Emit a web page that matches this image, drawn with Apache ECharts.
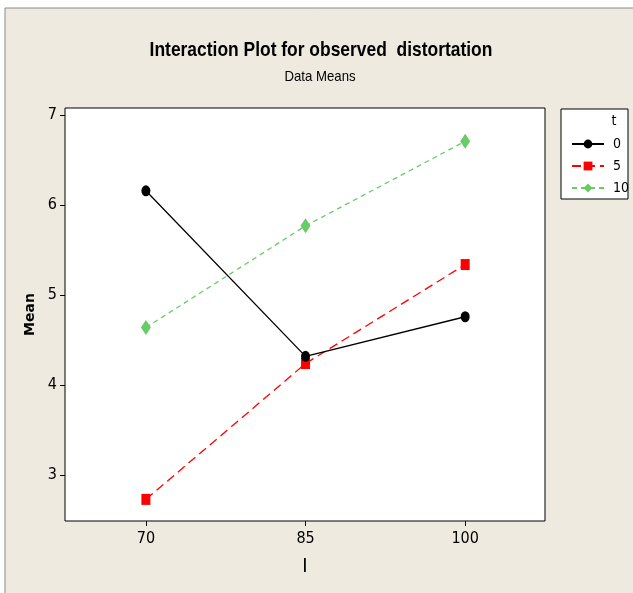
<!DOCTYPE html>
<html><head><meta charset="utf-8">
<script src="https://cdn.jsdelivr.net/npm/echarts@6/dist/echarts.min.js"></script>
<style>html,body{margin:0;padding:0;background:#fff}#c{width:633px;height:593px}</style>
</head><body><div id="c"></div>
<script>
const xLevels = [70, 85, 100];
const yTicks = [3, 4, 5, 6, 7];
const seriesNames = ['0', '5', '10'];
const mean_t0 = [6.16, 4.32, 4.76];
const mean_t5 = [2.73, 4.24, 5.34];
const mean_t10 = [4.64, 5.77, 6.71];
const titleText = 'Interaction Plot for observed  distortation';
const subtitleText = 'Data Means';

const FONT = '"Liberation Sans Narrow", "DejaVu Sans Condensed", "Liberation Sans", sans-serif';
const pts = arr => xLevels.map((x, i) => [x, arr[i]]);

const chart = echarts.init(document.getElementById('c'), null, {renderer: 'canvas'});
chart.setOption({
  backgroundColor: '#ffffff',
  animation: false,
  graphic: [
    {type: 'rect', z: -10, shape: {x: 5, y: 8, width: 640, height: 600},
     style: {fill: '#EEEAE0', stroke: '#8a8a8a', lineWidth: 1}},
    {type: 'rect', z: 1, shape: {x: 561, y: 109, width: 67, height: 90},
     style: {fill: '#ffffff', stroke: '#000', lineWidth: 1}},
    {type: 'text', z: 2, x: 614, y: 121, style: {text: 't', font: '14px ' + FONT, fill: '#000', textAlign: 'center', textVerticalAlign: 'middle'}},
    {type: 'text', z: 2, x: 321, y: 50, scaleX: 0.83, style: {text: titleText, font: 'bold 21px "Liberation Sans", sans-serif', fill: '#000', textAlign: 'center', textVerticalAlign: 'middle'}},
    {type: 'text', z: 2, x: 320, y: 77, scaleX: 0.88, style: {text: subtitleText, font: '15px "Liberation Sans", sans-serif', fill: '#000', textAlign: 'center', textVerticalAlign: 'middle'}}
  ],
  legend: {
    orient: 'vertical', left: 566, top: 132, itemWidth: 32, itemHeight: 11, itemGap: 8,
    data: seriesNames, z: 5,
    textStyle: {fontFamily: FONT, fontSize: 14, color: '#000', padding: [0, 0, 0, 4]}
  },
  grid: {left: 65, top: 108, width: 480, height: 413, show: true, backgroundColor: '#ffffff',
         borderColor: '#000', borderWidth: 1},
  xAxis: {
    type: 'value', min: 62.4, max: 107.5,
    name: 'I', nameLocation: 'middle', nameGap: 36,
    nameTextStyle: {fontFamily: FONT, fontSize: 20, color: '#000'},
    axisLine: {show: false},
    axisTick: {show: true, length: 5, inside: false, customValues: xLevels, lineStyle: {color: '#000'}},
    axisLabel: {customValues: xLevels, fontFamily: FONT, fontSize: 16, color: '#000', margin: 10},
    splitLine: {show: false}
  },
  yAxis: {
    type: 'value', min: 2.49, max: 7.08,
    name: 'Mean', nameLocation: 'middle', nameGap: 22, nameRotate: 90,
    nameTextStyle: {fontFamily: 'DejaVu Sans, sans-serif', fontWeight: 'bold', fontSize: 14, color: '#000'},
    axisLine: {show: false},
    axisTick: {show: true, length: 5, inside: false, customValues: yTicks, lineStyle: {color: '#000'}},
    axisLabel: {customValues: yTicks, fontFamily: FONT, fontSize: 16, color: '#000', margin: 8},
    splitLine: {show: false}
  },
  series: [
    {name: seriesNames[0], type: 'line', data: pts(mean_t0), symbol: 'circle', symbolSize: [9, 11],
     itemStyle: {color: '#000'}, lineStyle: {color: '#000', width: 1.3, type: 'solid'}, z: 4},
    {name: seriesNames[1], type: 'line', data: pts(mean_t5), symbol: 'rect', symbolSize: [9, 11],
     itemStyle: {color: '#ff0000'}, lineStyle: {color: '#ff0000', width: 1.3, type: [9, 5]}, z: 3},
    {name: seriesNames[2], type: 'line', data: pts(mean_t10), symbol: 'diamond', symbolSize: [10, 15],
     itemStyle: {color: '#66CC66'}, lineStyle: {color: '#66CC66', width: 1.3, type: [5, 4]}, z: 2}
  ]
});
</script></body></html>
